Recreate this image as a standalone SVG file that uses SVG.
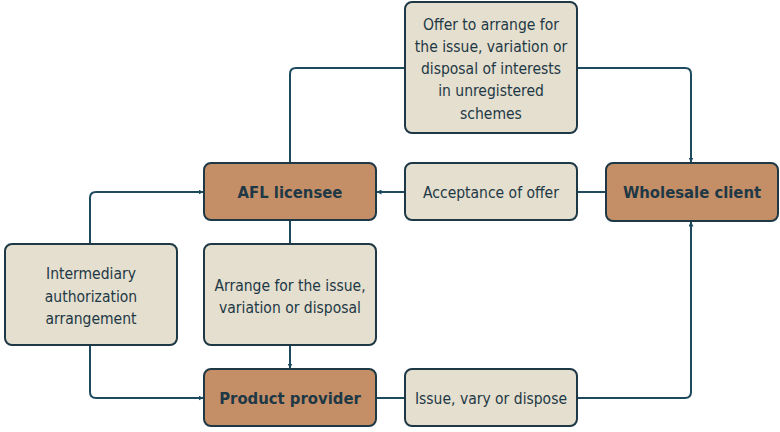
<svg xmlns="http://www.w3.org/2000/svg" width="780" height="432" viewBox="0 0 780 432">
<defs>
<style>
.main rect{fill:#C48F66;stroke:#1E3846;stroke-width:2}
.sub rect{fill:#E4DFCE;stroke:#1E3846;stroke-width:2}
text{font-family:"DejaVu Sans Condensed","DejaVu Sans",sans-serif;font-stretch:condensed;fill:#1E3846;text-anchor:middle}
.main text{font-size:16.5px;font-weight:bold}
.sub text{font-size:15.5px}
.conn path{fill:none;stroke:#1E4A60;stroke-width:2}
</style>
<marker id="arr" viewBox="0 0 10 10" refX="9" refY="5" markerWidth="5" markerHeight="5" orient="auto" markerUnits="userSpaceOnUse">
<path d="M0,0 L10,5 L0,10 z" fill="#1E4A60"/>
</marker>
</defs>
<rect width="780" height="432" fill="#ffffff"/>
<g class="conn">
<path d="M290,163 V74 Q290,68 296,68 H405"/>
<path d="M577,68 H685 Q691,68 691,74 V162" marker-end="url(#arr)"/>
<path d="M606,192 H577"/>
<path d="M405,192 H377" marker-end="url(#arr)"/>
<path d="M90,244 V198 Q90,192 96,192 H203" marker-end="url(#arr)"/>
<path d="M90,345 V392 Q90,398 96,398 H203" marker-end="url(#arr)"/>
<path d="M290,220 V244"/>
<path d="M290,345 V368" marker-end="url(#arr)"/>
<path d="M376,398 H405"/>
<path d="M577,398 H685 Q691,398 691,392 V222" marker-end="url(#arr)"/>
</g>
<g id="offer" class="sub">
<rect x="405" y="2" width="172" height="131" rx="7"/>
<text x="491" y="30">Offer to arrange for</text>
<text x="491" y="52">the issue, variation or</text>
<text x="491" y="74">disposal of interests</text>
<text x="491" y="96">in unregistered</text>
<text x="491" y="119">schemes</text>
</g>
<g id="afl" class="main">
<rect x="204" y="163" width="172" height="57" rx="7"/>
<text x="290" y="198">AFL licensee</text>
</g>
<g id="acceptance" class="sub">
<rect x="405" y="163" width="172" height="57" rx="7"/>
<text x="491" y="198">Acceptance of offer</text>
</g>
<g id="wholesale" class="main">
<rect x="606" y="163" width="172" height="58" rx="7"/>
<text x="692" y="198">Wholesale client</text>
</g>
<g id="intermediary" class="sub">
<rect x="5" y="244" width="172" height="101" rx="7"/>
<text x="91" y="279">Intermediary</text>
<text x="91" y="302">authorization</text>
<text x="91" y="324">arrangement</text>
</g>
<g id="arrange" class="sub">
<rect x="204" y="244" width="172" height="101" rx="7"/>
<text x="290" y="291">Arrange for the issue,</text>
<text x="290" y="313">variation or disposal</text>
</g>
<g id="provider" class="main">
<rect x="204" y="369" width="172" height="57" rx="7"/>
<text x="290" y="404">Product provider</text>
</g>
<g id="issue" class="sub">
<rect x="405" y="369" width="172" height="57" rx="7"/>
<text x="491" y="404">Issue, vary or dispose</text>
</g>
</svg>
